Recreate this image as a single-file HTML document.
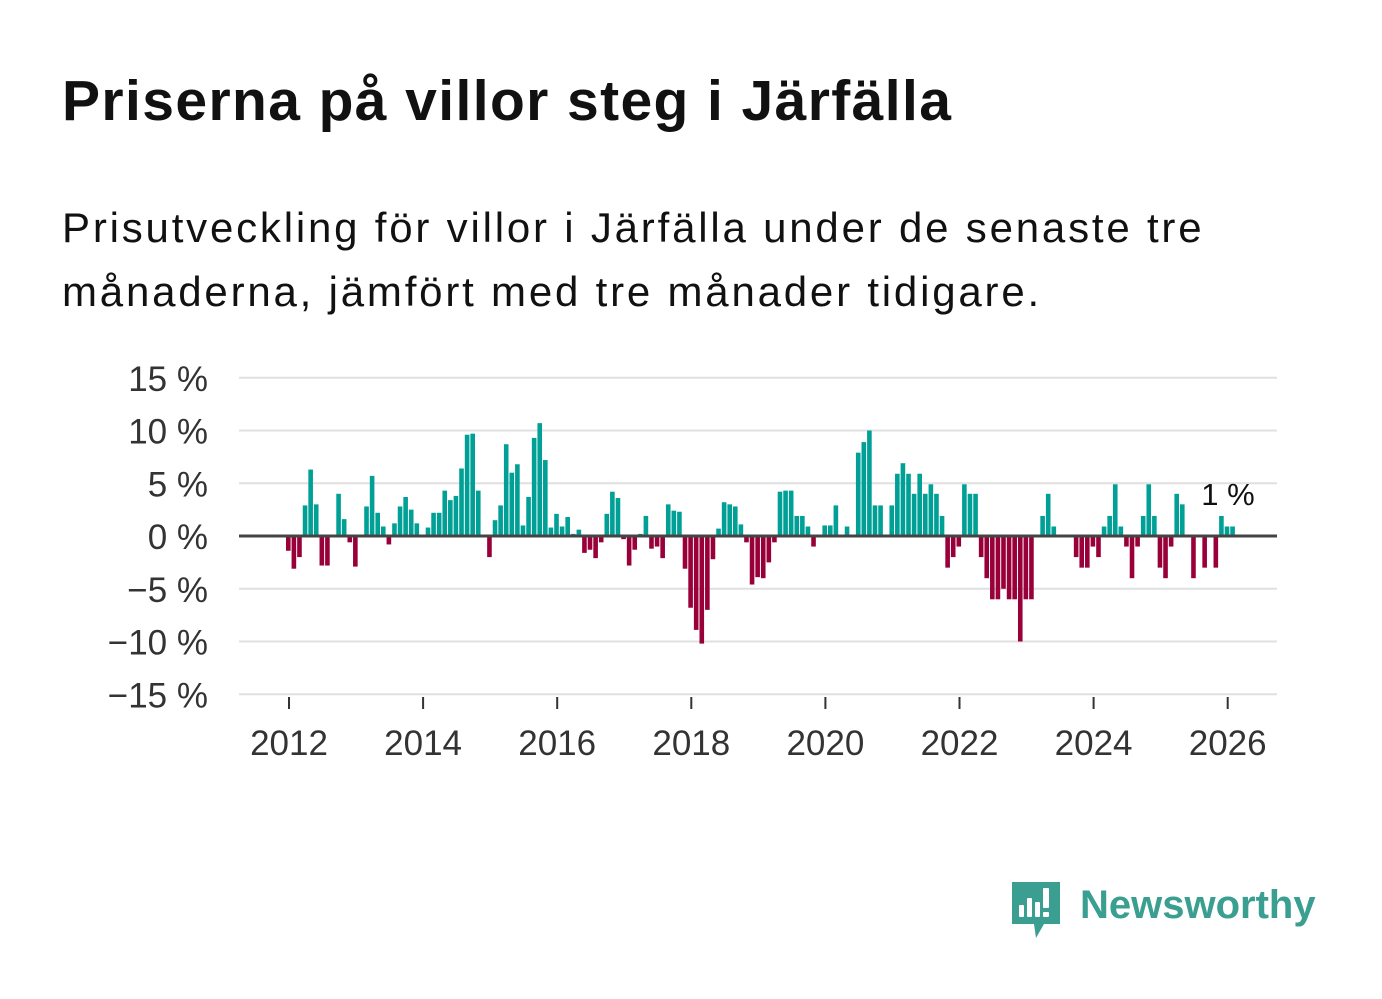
<!DOCTYPE html>
<html><head><meta charset="utf-8"><style>
body{margin:0;background:#fff;width:1382px;height:999px;overflow:hidden;font-family:"Liberation Sans",sans-serif;}
#title{position:absolute;left:62px;top:68px;font-size:57px;font-weight:bold;color:#111;margin:0;letter-spacing:1.4px}
#sub{position:absolute;left:62px;top:196px;font-size:42px;color:#111;line-height:64px;width:1310px;margin:0;letter-spacing:2.8px}
svg{position:absolute;left:0;top:0}
</style></head><body>
<h1 id="title">Priserna på villor steg i Järfälla</h1>
<p id="sub">Prisutveckling för villor i Järfälla under de senaste tre<br>månaderna, jämfört med tre månader tidigare.</p>
<svg id="chart" width="1382" height="999"></svg>
<script>
const values=[-1.4,-3.1,-2.0,2.9,6.3,3.0,-2.8,-2.8,0,4.0,1.6,-0.6,-2.9,0,2.8,5.7,2.2,0.9,-0.8,1.2,2.8,3.7,2.5,1.2,0,0.8,2.2,2.2,4.3,3.4,3.8,6.4,9.6,9.7,4.3,0.1,-2.0,1.5,2.9,8.7,6.0,6.8,1.0,3.7,9.3,10.7,7.2,0.8,2.1,0.9,1.8,0.2,0.6,-1.6,-1.3,-2.1,-0.6,2.1,4.2,3.6,-0.3,-2.8,-1.3,0.2,1.9,-1.2,-1.0,-2.1,3.0,2.4,2.3,-3.1,-6.8,-8.9,-10.2,-7.0,-2.2,0.7,3.2,3.0,2.8,1.1,-0.6,-4.6,-3.9,-4.0,-2.5,-0.6,4.2,4.3,4.3,1.9,1.9,0.9,-1.0,0,1.0,1.0,2.9,0,0.9,0,7.9,8.9,10.0,2.9,2.9,0,2.9,5.9,6.9,5.9,4.0,5.9,4.0,4.9,4.0,1.9,-3.0,-2.0,-1.0,4.9,4.0,4.0,-2.0,-4.0,-6.0,-6.0,-5.0,-6.0,-6.0,-10.0,-6.0,-6.0,0,1.9,4.0,0.9,0,0,0,-2.0,-3.0,-3.0,-1.0,-2.0,0.9,1.9,4.9,0.9,-1.0,-4.0,-1.0,1.9,4.9,1.9,-3.0,-4.0,-1.0,4.0,3.0,0,-4.0,0,-3.0,0,-3.0,1.9,0.9,0.9];
const yTicks=[15,10,5,0,-5,-10,-15];
const yTickLabels=["15 %","10 %","5 %","0 %","\u22125 %","\u221210 %","\u221215 %"];
const xTicks=[2012,2014,2016,2018,2020,2022,2024,2026];
const lastLabel="1 %";
const NS="http://www.w3.org/2000/svg",svg=document.getElementById('chart');
const y=v=>536-v*10.55;
const xYear=yr=>289+(yr-2012)*67.05;
const xMonth=i=>286+i*5.5875;
function el(t,a,p){const e=document.createElementNS(NS,t);for(const k in a)e.setAttribute(k,a[k]);(p||svg).appendChild(e);return e;}
yTicks.forEach((t,i)=>{
 const g=el('line',{x1:239,x2:1277,y1:y(t),y2:y(t),stroke:'#e0e0e0','stroke-width':2});
 
 
 const tx=el('text',{x:208,y:y(t)+13,'text-anchor':'end','font-size':35,fill:'#333'});
 tx.textContent=yTickLabels[i];
 
 
});
values.forEach((v,i)=>{
 if(v===0)return;
 const r=el('rect',{x:xMonth(i),width:4.6,y:Math.min(y(v),536),height:Math.abs(y(v)-536),fill:v>0?'#00a096':'#990039'});
 
 
});
const zl=el('line',{x1:239,x2:1277,y1:536,y2:536,stroke:'#444','stroke-width':3});


xTicks.forEach(t=>{
 const l=el('line',{x1:xYear(t),x2:xYear(t),y1:697,y2:709,stroke:'#333','stroke-width':2});
 
 
 const tx=el('text',{x:xYear(t),y:755,'text-anchor':'middle','font-size':35,fill:'#333'});
 tx.textContent=t;
 
 
});
const lb=el('text',{x:1228,y:505,'text-anchor':'middle','font-size':31,fill:'#111'});
lb.textContent=lastLabel;


const lg=el('g',{});


el('path',{d:'M1012 882 h48 v42 h-16 l-8 14 l-2 -14 h-22 z',fill:'#3a9e90'},lg);
[[1019,905,5,12],[1027,898,5,19],[1035,902,5,15],[1043,888,6,20],[1043,912,6,5]].forEach(b=>el('rect',{x:b[0],y:b[1],width:b[2],height:b[3],fill:'#fff',rx:1},lg));
const lt=el('text',{x:1080,y:918,'font-size':40,fill:'#3a9e90','font-weight':'bold'},lg);
lt.textContent='Newsworthy';
</script>
</body></html>
